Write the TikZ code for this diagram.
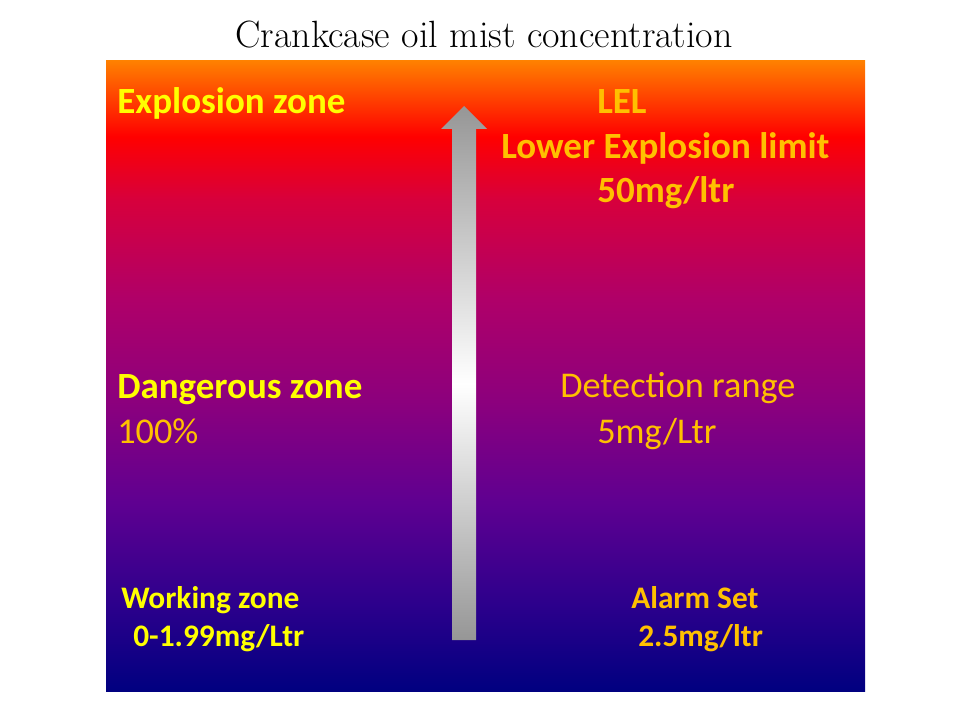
\documentclass[tikz,border=0pt]{standalone}
\usepackage{fontspec}
\newfontfamily\labelfont{Carlito}
\usetikzlibrary{positioning}
\definecolor{zoneyellow}{RGB}{255,255,0}
\definecolor{zonegold}{RGB}{255,192,0}
\definecolor{bgA}{RGB}{0,0,128}
\definecolor{bgB}{RGB}{45,0,140}
\definecolor{bgC}{RGB}{95,0,145}
\definecolor{bgD}{RGB}{140,0,125}
\definecolor{bgE}{RGB}{175,0,105}
\definecolor{bgF}{RGB}{215,0,60}
\definecolor{bgG}{RGB}{255,0,0}
\definecolor{bgH}{RGB}{255,128,0}
\definecolor{arrowgrey}{RGB}{150,150,150}
\pgfdeclareverticalshading{mistbg}{100bp}{color(0bp)=(bgA); color(25bp)=(bgA); color(32bp)=(bgB); color(40bp)=(bgC); color(48bp)=(bgD); color(56bp)=(bgE); color(64bp)=(bgF); color(69bp)=(bgG); color(75bp)=(bgH); color(100bp)=(bgH)}
\pgfdeclareverticalshading{mistarrow}{100bp}{color(0bp)=(arrowgrey); color(25bp)=(arrowgrey); color(49bp)=(white); color(75bp)=(arrowgrey); color(100bp)=(arrowgrey)}

\begin{document}
\begin{tikzpicture}[x=0.025cm, y=-0.025cm,
	big/.style={anchor=base west, inner sep=0pt, font=\labelfont\fontsize{25.8}{30}\selectfont},
	bigbold/.style={anchor=base west, inner sep=0pt, font=\labelfont\bfseries\fontsize{26.3}{30}\selectfont},
	small/.style={anchor=base west, inner sep=0pt, font=\labelfont\bfseries\fontsize{22.3}{26}\selectfont}]
	\useasboundingbox (0,0) rectangle (960,720);
	\node (title) [font=\fontsize{27}{32}\selectfont, inner sep=0pt] at (484,35) {Crankcase oil mist concentration};
	\shade [shading=mistbg] (106,61) rectangle (865,691);
	\shade [shading=mistarrow] (452,640) -- (452,129) -- (441,129) -- (464,106) -- (487,129) -- (476,129) -- (476,640) -- cycle;
	% left column
	\node (explosion) [bigbold, zoneyellow] at (117,114) {Explosion zone};
	\node (dangerous) [bigbold, zoneyellow] at (117,399) {Dangerous zone};
	\node (percent) [big, zonegold] at (117,444) {100\%};
	\node (working) [small, zoneyellow] at (121,608) {Working zone};
	\node (workval) [small, zoneyellow] at (133,646) {0-1.99mg/Ltr};
	% right column
	\node (lel) [bigbold, zonegold] at (597,114) {LEL};
	\node (lower) [bigbold, zonegold] at (501,159) {Lower Explosion limit};
	\node (lelval) [bigbold, zonegold] at (597,203) {50mg/ltr};
	\node (detect) [big, zonegold] at (560,398) {Detection range};
	\node (detval) [big, zonegold] at (597,444) {5mg/Ltr};
	\node (alarm) [small, zonegold] at (631,608) {Alarm Set};
	\node (alarmval) [small, zonegold] at (638,646) {2.5mg/ltr};
\end{tikzpicture}
\end{document}
